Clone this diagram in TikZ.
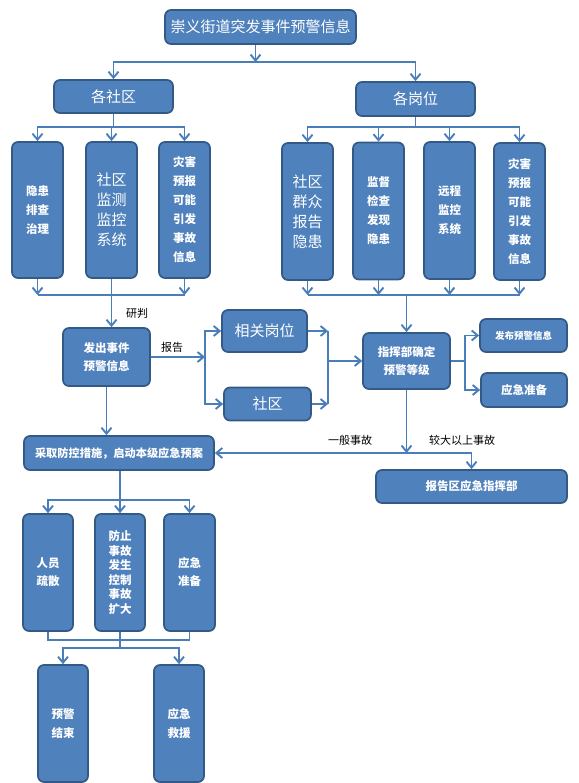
\documentclass[tikz,border=0pt]{standalone}
\usepackage{fontspec}
\newfontfamily\cjk{Noto Sans CJK SC}
\usetikzlibrary{arrows.meta}
\definecolor{boxfill}{HTML}{4F81BD}
\definecolor{boxline}{HTML}{335A86}
\definecolor{connc}{HTML}{4A7EBB}
\tikzset{
 box/.style={draw=boxline, line width=1.7pt, fill=boxfill, rounded corners=6pt, text=white, align=center, inner sep=0pt, font=\cjk\bfseries\fontsize{11.5}{19}\selectfont},
 big/.style={font=\cjk\fontsize{15}{20}\selectfont},
 conn/.style={draw=connc, line width=1.9pt},
 arr/.style={conn, -{Straight Barb[length=6pt,width=10pt]}},
 arrs/.style={conn, {Straight Barb[length=6pt,width=10pt]}-{Straight Barb[length=6pt,width=10pt]}},
 lab/.style={font=\cjk\fontsize{11}{13}\selectfont, text=black},
}
\begin{document}
\begin{tikzpicture}[x=1pt,y=-1pt]
\useasboundingbox (0,0) rectangle (578,783);
% boxes
\node[box, big, minimum width=191pt, minimum height=34pt] (title) at (260.5,27) {崇义街道突发事件预警信息};
\node[box, big, minimum width=119pt, minimum height=33pt] (sq) at (113.5,96.5) {各社区};
\node[box, big, minimum width=119pt, minimum height=34pt] (gw) at (415.5,99) {各岗位};
\node[box, minimum width=51pt, minimum height=136pt] (L1) at (37.5,210) {隐患\\排查\\治理};
\node[box, big, minimum width=51pt, minimum height=136pt] (L2) at (111.5,210) {社区\\监测\\监控\\系统};
\node[box, minimum width=51pt, minimum height=136pt] (L3) at (184.5,210) {灾害\\预报\\可能\\引发\\事故\\信息};
\node[box, big, minimum width=51pt, minimum height=137pt] (R1) at (307.5,211.5) {社区\\群众\\报告\\隐患};
\node[box, minimum width=51pt, minimum height=137pt] (R2) at (378.5,211) {监督\\检查\\发现\\隐患};
\node[box, minimum width=51pt, minimum height=137pt] (R3) at (449.5,210.5) {远程\\监控\\系统};
\node[box, minimum width=51pt, minimum height=137pt] (R4) at (519.5,211.5) {灾害\\预报\\可能\\引发\\事故\\信息};
\node[box, minimum width=87pt, minimum height=58pt, font=\cjk\bfseries\fontsize{11.5}{18}\selectfont] (fc) at (106.5,357) {发出事件\\预警信息};
\node[box, big, minimum width=85pt, minimum height=42pt] (xg) at (264.5,331) {相关岗位};
\node[box, big, minimum width=87pt, minimum height=33pt] (sqb) at (267.5,404) {社区};
\node[box, minimum width=87pt, minimum height=56pt, font=\cjk\bfseries\fontsize{11.5}{18}\selectfont] (zh) at (406.5,361) {指挥部确定\\预警等级};
\node[box, minimum width=87pt, minimum height=33pt, font=\cjk\bfseries\fontsize{9.5}{12}\selectfont] (fb) at (523.5,335.5) {发布预警信息};
\node[box, minimum width=86pt, minimum height=34pt] (yj) at (524,390) {应急准备};
\node[box, minimum width=191pt, minimum height=33pt] (bg) at (471.5,486.5) {报告区应急指挥部};
\node[box, minimum width=190pt, minimum height=34pt, font=\cjk\bfseries\fontsize{11.2}{14}\selectfont] (cq) at (119,453) {采取防控措施，启动本级应急预案};
\node[box, minimum width=50pt, minimum height=117pt, font=\cjk\bfseries\fontsize{11.5}{18}\selectfont] (b1) at (48,572.5) {人员\\疏散};
\node[box, minimum width=50pt, minimum height=117pt, font=\cjk\bfseries\fontsize{11.5}{14.5}\selectfont] (b2) at (120,572.5) {防止\\事故\\发生\\控制\\事故\\扩大};
\node[box, minimum width=51pt, minimum height=117pt, font=\cjk\bfseries\fontsize{11.5}{18}\selectfont] (b3) at (189.5,572.5) {应急\\准备};
\node[box, minimum width=50pt, minimum height=117pt, font=\cjk\bfseries\fontsize{11.5}{19}\selectfont] (c1) at (63,723.5) {预警\\结束};
\node[box, minimum width=50pt, minimum height=117pt, font=\cjk\bfseries\fontsize{11.5}{19}\selectfont] (c2) at (179,723.5) {应急\\救援};
% labels
\node[lab] (yp) at (137,313) {研判};
\node[lab] (bgl) at (172,347) {报告};
\node[lab] (yb) at (350,440) {一般事故};
\node[lab] (jd) at (462,440) {较大以上事故};
% connectors
\coordinate (h1) at (0,62);
\coordinate (ts) at ([xshift=-5pt]title.south);
\draw[arr] (ts) -- (ts |- h1);
\draw[arrs] (sq.north) -- (sq.north |- h1) -- (gw.north |- h1) -- (gw.north);
\coordinate (h2) at (0,127);
\draw[conn] (sq.south) -- (sq.south |- h2);
\draw[arrs] (L1.north) -- (L1.north |- h2) -- (L3.north |- h2) -- (L3.north);
\draw[arr] (L2.north |- h2) -- (L2.north);
\draw[conn] (gw.south) -- (gw.south |- h2);
\draw[arrs] (R1.north) -- (R1.north |- h2) -- (R4.north |- h2) -- (R4.north);
\draw[arr] (R2.north |- h2) -- (R2.north);
\draw[arr] (R3.north |- h2) -- (R3.north);
\coordinate (h3) at (0,295);
\draw[conn] (L1.south |- h3) -- (L3.south |- h3);
\draw[arr] (L1.south) -- (L1.south |- h3);
\draw[arr] (L3.south) -- (L3.south |- h3);
\draw[arr] (L2.south) -- (L2.south |- fc.north);
\draw[conn] (R1.south |- h3) -- (R4.south |- h3);
\draw[arr] (R1.south) -- (R1.south |- h3);
\draw[arr] (R2.south) -- (R2.south |- h3);
\draw[arr] (R3.south) -- (R3.south |- h3);
\draw[arr] (R4.south) -- (R4.south |- h3);
\draw[arr] (zh.north |- h3) -- (zh.north);
\coordinate (v1) at (205,0);
\draw[arr] (fc.east) -- (fc.east -| v1);
\draw[arrs] (xg.west) -- (xg.west -| v1) -- (sqb.west -| v1) -- (sqb.west);
\coordinate (v2) at (328,0);
\draw[arr] (xg.east) -- (xg.east -| v2);
\draw[arr] (sqb.east) -- (sqb.east -| v2);
\draw[conn] (xg.east -| v2) -- (sqb.east -| v2);
\draw[arr] (zh.west -| v2) -- (zh.west);
\coordinate (v3) at (465,0);
\draw[conn] (zh.east) -- (zh.east -| v3);
\draw[arrs] (fb.west) -- (fb.west -| v3) -- (yj.west -| v3) -- (yj.west);
\coordinate (h4) at (0,453);
\draw[arr] (zh.south) -- (zh.south |- h4);
\draw[arrs] (cq.east) -- (bg.north |- h4) -- (bg.north);
\draw[arr] (fc.south) -- (fc.south |- cq.north);
\coordinate (h5) at (0,500);
\draw[conn] (b2.north |- cq.south) -- (b2.north |- h5);
\draw[arrs] (b1.north) -- (b1.north |- h5) -- (b3.north |- h5) -- (b3.north);
\draw[arr] (b2.north |- h5) -- (b2.north);
\coordinate (h6) at (0,640);
\draw[conn] (b1.south) -- (b1.south |- h6) -- (b3.south |- h6) -- (b3.south);
\coordinate (h7) at (0,648);
\draw[conn] (b2.south) -- (b2.south |- h7);
\draw[arrs] (c1.north) -- (c1.north |- h7) -- (c2.north |- h7) -- (c2.north);
\end{tikzpicture}
\end{document}
